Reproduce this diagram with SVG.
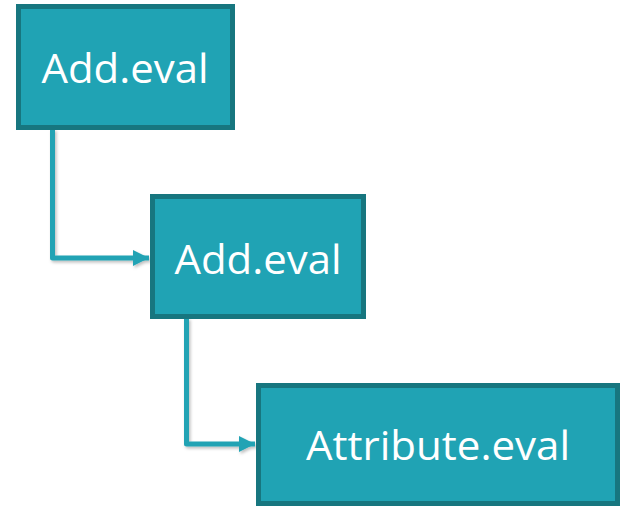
<svg xmlns="http://www.w3.org/2000/svg" width="621" height="506" viewBox="0 0 621 506">
  <defs>
    <style>
      .node rect { fill: #20a3b4; stroke: #17767f; stroke-width: 5; }
      .node text { fill: #ffffff; font-family: "Open Sans", "Liberation Sans", sans-serif; font-size: 41px; text-anchor: middle; }
      .edge { fill: none; stroke: #21a3b4; stroke-width: 5; stroke-linejoin: round; }
    </style>
    <marker id="arrow" viewBox="0 0 10 10" refX="10" refY="5" markerWidth="3.2" markerHeight="3.2" markerUnits="strokeWidth" orient="auto">
      <path d="M0,0 L10,5 L0,10 Z" fill="#21a3b4"/>
    </marker>
    <filter id="shadow" x="-10%" y="-10%" width="130%" height="130%">
      <feDropShadow dx="1.5" dy="2" stdDeviation="1.5" flood-color="#000" flood-opacity="0.25"/>
    </filter>
  </defs>

  <g id="connectors" filter="url(#shadow)">
    <path class="edge" d="M52.5,129 V258 H149" marker-end="url(#arrow)"/>
    <path class="edge" d="M186.5,318 V444 H255" marker-end="url(#arrow)"/>
  </g>

  <g id="node-add-eval-1" class="node">
    <rect x="18.5" y="6.5" width="214" height="121"/>
    <text x="125" y="83" textLength="167" lengthAdjust="spacingAndGlyphs">Add.eval</text>
  </g>

  <g id="node-add-eval-2" class="node">
    <rect x="152.5" y="196.5" width="211" height="120"/>
    <text x="258" y="274" textLength="167" lengthAdjust="spacingAndGlyphs">Add.eval</text>
  </g>

  <g id="node-attribute-eval" class="node">
    <rect x="258.5" y="385.5" width="359" height="118"/>
    <text x="438" y="460" textLength="264" lengthAdjust="spacingAndGlyphs">Attribute.eval</text>
  </g>
</svg>
